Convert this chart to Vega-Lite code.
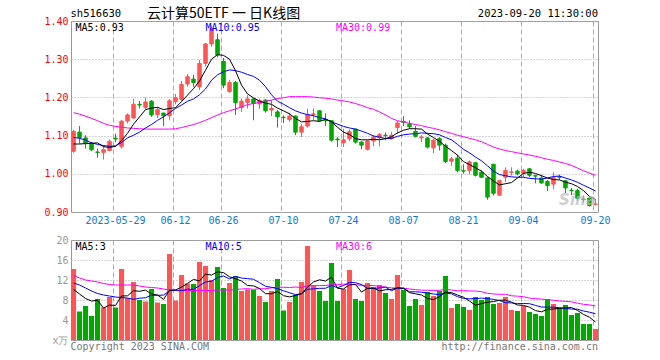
{
"$schema": "https://vega.github.io/schema/vega-lite/v6.json",
"background": "white",
"padding": {"left": 43, "top": 6, "right": 5, "bottom": 0},
"config": {
  "view": {"stroke": "#999", "strokeWidth": 1},
  "font": "DejaVu Sans Mono",
  "axis": {"labelFont": "DejaVu Sans Mono", "labelFontSize": 10, "ticks": false, "domain": false, "title": null, "gridColor": "#aaa", "gridWidth": 1, "labelAngle": 0, "labelOverlap": false}
},
"data": {"values": [
{"d":"2023-05-18","o":1.059,"h":1.115,"l":1.055,"c":1.111,"up":1,"v":14.2,"m5":1.078,"m10":1.095,"m30":1.160,"vm5":10.1,"vm10":11.4,"vm30":12.9},
{"d":"2023-05-19","o":1.109,"h":1.125,"l":1.079,"c":1.095,"up":0,"v":5.7,"m5":1.078,"m10":1.093,"m30":1.156,"vm5":9.2,"vm10":11.0,"vm30":12.4},
{"d":"2023-05-22","o":1.094,"h":1.101,"l":1.066,"c":1.079,"up":0,"v":6.8,"m5":1.079,"m10":1.088,"m30":1.151,"vm5":8.3,"vm10":10.4,"vm30":12.0},
{"d":"2023-05-23","o":1.079,"h":1.083,"l":1.059,"c":1.063,"up":0,"v":4.8,"m5":1.080,"m10":1.081,"m30":1.145,"vm5":7.8,"vm10":9.8,"vm30":11.8},
{"d":"2023-05-24","o":1.057,"h":1.066,"l":1.042,"c":1.056,"up":0,"v":8.2,"m5":1.081,"m10":1.077,"m30":1.139,"vm5":7.94,"vm10":9.3,"vm30":11.6},
{"d":"2023-05-25","o":1.056,"h":1.075,"l":1.037,"c":1.063,"up":1,"v":6.5,"m5":1.071,"m10":1.074,"m30":1.132,"vm5":6.4,"vm10":9.0,"vm30":11.3},
{"d":"2023-05-26","o":1.061,"h":1.090,"l":1.059,"c":1.085,"up":1,"v":8.6,"m5":1.069,"m10":1.072,"m30":1.127,"vm5":6.98,"vm10":8.8,"vm30":11.1},
{"d":"2023-05-29","o":1.093,"h":1.105,"l":1.083,"c":1.091,"up":0,"v":6.5,"m5":1.072,"m10":1.073,"m30":1.124,"vm5":6.92,"vm10":8.6,"vm30":11.0},
{"d":"2023-05-30","o":1.072,"h":1.140,"l":1.066,"c":1.138,"up":1,"v":14.2,"m5":1.087,"m10":1.082,"m30":1.122,"vm5":8.8,"vm10":8.5,"vm30":11.0},
{"d":"2023-05-31","o":1.138,"h":1.158,"l":1.132,"c":1.154,"up":1,"v":8.4,"m5":1.106,"m10":1.094,"m30":1.120,"vm5":8.84,"vm10":8.39,"vm30":11.0},
{"d":"2023-06-01","o":1.146,"h":1.197,"l":1.145,"c":1.182,"up":1,"v":11.6,"m5":1.130,"m10":1.101,"m30":1.119,"vm5":9.86,"vm10":8.13,"vm30":11.0},
{"d":"2023-06-02","o":1.182,"h":1.191,"l":1.171,"c":1.180,"up":0,"v":8.0,"m5":1.149,"m10":1.109,"m30":1.118,"vm5":9.74,"vm10":8.36,"vm30":10.8},
{"d":"2023-06-05","o":1.174,"h":1.200,"l":1.168,"c":1.188,"up":1,"v":7.7,"m5":1.168,"m10":1.120,"m30":1.117,"vm5":9.98,"vm10":8.45,"vm30":10.6},
{"d":"2023-06-06","o":1.190,"h":1.193,"l":1.149,"c":1.154,"up":0,"v":10.2,"m5":1.172,"m10":1.129,"m30":1.117,"vm5":9.18,"vm10":8.99,"vm30":10.5},
{"d":"2023-06-07","o":1.155,"h":1.175,"l":1.146,"c":1.168,"up":1,"v":7.5,"m5":1.174,"m10":1.140,"m30":1.117,"vm5":9.0,"vm10":8.92,"vm30":10.4},
{"d":"2023-06-08","o":1.159,"h":1.160,"l":1.125,"c":1.152,"up":0,"v":7.2,"m5":1.168,"m10":1.149,"m30":1.117,"vm5":8.12,"vm10":8.99,"vm30":10.2},
{"d":"2023-06-09","o":1.152,"h":1.196,"l":1.140,"c":1.191,"up":1,"v":17.2,"m5":1.171,"m10":1.160,"m30":1.117,"vm5":9.96,"vm10":9.85,"vm30":10.0},
{"d":"2023-06-12","o":1.189,"h":1.209,"l":1.182,"c":1.199,"up":1,"v":7.9,"m5":1.173,"m10":1.171,"m30":1.118,"vm5":10.0,"vm10":9.99,"vm30":9.9},
{"d":"2023-06-13","o":1.195,"h":1.243,"l":1.189,"c":1.234,"up":1,"v":13.0,"m5":1.189,"m10":1.180,"m30":1.121,"vm5":10.56,"vm10":9.87,"vm30":9.9},
{"d":"2023-06-14","o":1.235,"h":1.261,"l":1.228,"c":1.254,"up":1,"v":11.3,"m5":1.206,"m10":1.190,"m30":1.125,"vm5":11.32,"vm10":10.16,"vm30":9.9},
{"d":"2023-06-15","o":1.248,"h":1.259,"l":1.228,"c":1.239,"up":0,"v":11.2,"m5":1.223,"m10":1.196,"m30":1.129,"vm5":12.12,"vm10":10.12,"vm30":9.9},
{"d":"2023-06-16","o":1.228,"h":1.298,"l":1.219,"c":1.289,"up":1,"v":15.6,"m5":1.243,"m10":1.207,"m30":1.134,"vm5":11.8,"vm10":10.88,"vm30":9.9},
{"d":"2023-06-19","o":1.289,"h":1.342,"l":1.281,"c":1.340,"up":1,"v":14.8,"m5":1.271,"m10":1.222,"m30":1.140,"vm5":13.18,"vm10":11.59,"vm30":9.9},
{"d":"2023-06-20","o":1.340,"h":1.386,"l":1.333,"c":1.380,"up":1,"v":12.0,"m5":1.300,"m10":1.245,"m30":1.147,"vm5":12.98,"vm10":11.77,"vm30":9.9},
{"d":"2023-06-21","o":1.351,"h":1.367,"l":1.305,"c":1.311,"up":0,"v":14.6,"m5":1.312,"m10":1.259,"m30":1.154,"vm5":13.64,"vm10":12.48,"vm30":10.0},
{"d":"2023-06-26","o":1.294,"h":1.303,"l":1.224,"c":1.232,"up":0,"v":10.4,"m5":1.310,"m10":1.267,"m30":1.160,"vm5":13.48,"vm10":12.8,"vm30":10.0},
{"d":"2023-06-27","o":1.215,"h":1.246,"l":1.212,"c":1.239,"up":1,"v":11.4,"m5":1.300,"m10":1.272,"m30":1.165,"vm5":12.64,"vm10":12.22,"vm30":10.0},
{"d":"2023-06-28","o":1.239,"h":1.243,"l":1.154,"c":1.186,"up":0,"v":12.8,"m5":1.270,"m10":1.270,"m30":1.170,"vm5":12.24,"vm10":12.71,"vm30":10.1},
{"d":"2023-06-29","o":1.174,"h":1.197,"l":1.162,"c":1.190,"up":1,"v":9.8,"m5":1.232,"m10":1.266,"m30":1.175,"vm5":11.8,"vm10":12.39,"vm30":10.2},
{"d":"2023-06-30","o":1.187,"h":1.206,"l":1.171,"c":1.196,"up":1,"v":10.1,"m5":1.209,"m10":1.260,"m30":1.181,"vm5":10.9,"vm10":12.27,"vm30":10.27},
{"d":"2023-07-03","o":1.196,"h":1.197,"l":1.140,"c":1.184,"up":0,"v":10.0,"m5":1.199,"m10":1.255,"m30":1.184,"vm5":10.82,"vm10":12.15,"vm30":10.13},
{"d":"2023-07-04","o":1.183,"h":1.197,"l":1.170,"c":1.192,"up":1,"v":8.8,"m5":1.190,"m10":1.245,"m30":1.187,"vm5":10.3,"vm10":11.47,"vm30":10.24},
{"d":"2023-07-05","o":1.193,"h":1.195,"l":1.160,"c":1.165,"up":0,"v":7.6,"m5":1.185,"m10":1.228,"m30":1.190,"vm5":9.26,"vm10":10.75,"vm30":10.26},
{"d":"2023-07-06","o":1.167,"h":1.193,"l":1.151,"c":1.171,"up":1,"v":9.8,"m5":1.182,"m10":1.207,"m30":1.193,"vm5":9.26,"vm10":10.53,"vm30":10.43},
{"d":"2023-07-07","o":1.162,"h":1.167,"l":1.121,"c":1.149,"up":0,"v":12.2,"m5":1.172,"m10":1.190,"m30":1.197,"vm5":9.68,"vm10":10.29,"vm30":10.56},
{"d":"2023-07-10","o":1.148,"h":1.153,"l":1.133,"c":1.147,"up":0,"v":5.9,"m5":1.165,"m10":1.182,"m30":1.199,"vm5":8.86,"vm10":9.84,"vm30":10.54},
{"d":"2023-07-11","o":1.142,"h":1.160,"l":1.136,"c":1.151,"up":1,"v":7.6,"m5":1.157,"m10":1.173,"m30":1.202,"vm5":8.62,"vm10":9.46,"vm30":10.51},
{"d":"2023-07-12","o":1.151,"h":1.153,"l":1.101,"c":1.109,"up":0,"v":9.0,"m5":1.145,"m10":1.165,"m30":1.202,"vm5":8.9,"vm10":9.08,"vm30":10.59},
{"d":"2023-07-13","o":1.109,"h":1.130,"l":1.096,"c":1.123,"up":1,"v":11.6,"m5":1.136,"m10":1.159,"m30":1.202,"vm5":9.26,"vm10":9.26,"vm30":10.51},
{"d":"2023-07-14","o":1.125,"h":1.171,"l":1.121,"c":1.155,"up":1,"v":18.8,"m5":1.137,"m10":1.155,"m30":1.202,"vm5":10.58,"vm10":10.13,"vm30":10.85},
{"d":"2023-07-17","o":1.155,"h":1.171,"l":1.141,"c":1.157,"up":1,"v":11.0,"m5":1.139,"m10":1.152,"m30":1.201,"vm5":11.6,"vm10":10.23,"vm30":10.83},
{"d":"2023-07-18","o":1.165,"h":1.167,"l":1.136,"c":1.139,"up":0,"v":9.8,"m5":1.137,"m10":1.147,"m30":1.199,"vm5":12.04,"vm10":10.33,"vm30":10.89},
{"d":"2023-07-19","o":1.140,"h":1.158,"l":1.125,"c":1.139,"up":0,"v":7.8,"m5":1.143,"m10":1.144,"m30":1.198,"vm5":11.8,"vm10":10.35,"vm30":10.90},
{"d":"2023-07-20","o":1.139,"h":1.140,"l":1.084,"c":1.088,"up":0,"v":15.4,"m5":1.136,"m10":1.136,"m30":1.196,"vm5":12.56,"vm10":10.91,"vm30":11.07},
{"d":"2023-07-21","o":1.091,"h":1.096,"l":1.070,"c":1.089,"up":0,"v":7.8,"m5":1.122,"m10":1.130,"m30":1.193,"vm5":10.36,"vm10":10.47,"vm30":11.08},
{"d":"2023-07-24","o":1.081,"h":1.118,"l":1.070,"c":1.089,"up":1,"v":10.2,"m5":1.109,"m10":1.124,"m30":1.191,"vm5":10.2,"vm10":10.9,"vm30":11.18},
{"d":"2023-07-25","o":1.092,"h":1.116,"l":1.086,"c":1.110,"up":1,"v":14.0,"m5":1.103,"m10":1.120,"m30":1.188,"vm5":11.04,"vm10":11.54,"vm30":11.07},
{"d":"2023-07-26","o":1.117,"h":1.118,"l":1.079,"c":1.083,"up":0,"v":8.2,"m5":1.092,"m10":1.117,"m30":1.184,"vm5":11.12,"vm10":11.46,"vm30":11.08},
{"d":"2023-07-27","o":1.083,"h":1.085,"l":1.064,"c":1.075,"up":0,"v":7.8,"m5":1.089,"m10":1.112,"m30":1.179,"vm5":9.6,"vm10":11.08,"vm30":10.91},
{"d":"2023-07-28","o":1.064,"h":1.088,"l":1.061,"c":1.086,"up":1,"v":11.4,"m5":1.089,"m10":1.106,"m30":1.173,"vm5":10.32,"vm10":10.34,"vm30":10.91},
{"d":"2023-07-31","o":1.086,"h":1.101,"l":1.072,"c":1.096,"up":1,"v":10.6,"m5":1.090,"m10":1.099,"m30":1.169,"vm5":10.4,"vm10":10.3,"vm30":10.89},
{"d":"2023-08-01","o":1.095,"h":1.107,"l":1.072,"c":1.103,"up":1,"v":11.0,"m5":1.089,"m10":1.096,"m30":1.162,"vm5":9.8,"vm10":10.42,"vm30":10.74},
{"d":"2023-08-02","o":1.101,"h":1.108,"l":1.088,"c":1.100,"up":0,"v":9.4,"m5":1.092,"m10":1.092,"m30":1.154,"vm5":10.04,"vm10":10.58,"vm30":10.56},
{"d":"2023-08-03","o":1.092,"h":1.110,"l":1.089,"c":1.101,"up":1,"v":8.2,"m5":1.097,"m10":1.093,"m30":1.145,"vm5":10.12,"vm10":9.86,"vm30":10.43},
{"d":"2023-08-04","o":1.121,"h":1.138,"l":1.105,"c":1.133,"up":1,"v":13.0,"m5":1.107,"m10":1.098,"m30":1.139,"vm5":10.44,"vm10":10.38,"vm30":10.38},
{"d":"2023-08-07","o":1.137,"h":1.151,"l":1.125,"c":1.135,"up":0,"v":10.0,"m5":1.114,"m10":1.102,"m30":1.136,"vm5":10.32,"vm10":10.36,"vm30":10.37},
{"d":"2023-08-08","o":1.130,"h":1.140,"l":1.118,"c":1.123,"up":0,"v":6.8,"m5":1.118,"m10":1.104,"m30":1.132,"vm5":9.48,"vm10":9.64,"vm30":10.21},
{"d":"2023-08-09","o":1.111,"h":1.125,"l":1.095,"c":1.098,"up":0,"v":8.2,"m5":1.118,"m10":1.105,"m30":1.129,"vm5":9.24,"vm10":9.64,"vm30":10.06},
{"d":"2023-08-10","o":1.094,"h":1.101,"l":1.083,"c":1.096,"up":1,"v":7.0,"m5":1.117,"m10":1.107,"m30":1.126,"vm5":9.0,"vm10":9.56,"vm30":9.97},
{"d":"2023-08-11","o":1.094,"h":1.096,"l":1.066,"c":1.070,"up":0,"v":9.6,"m5":1.104,"m10":1.106,"m30":1.122,"vm5":8.32,"vm10":9.38,"vm30":9.95},
{"d":"2023-08-14","o":1.068,"h":1.092,"l":1.054,"c":1.088,"up":1,"v":8.8,"m5":1.095,"m10":1.105,"m30":1.119,"vm5":8.08,"vm10":9.2,"vm30":9.91},
{"d":"2023-08-15","o":1.092,"h":1.096,"l":1.061,"c":1.075,"up":0,"v":9.8,"m5":1.085,"m10":1.102,"m30":1.115,"vm5":8.68,"vm10":9.08,"vm30":9.94},
{"d":"2023-08-16","o":1.075,"h":1.079,"l":1.028,"c":1.032,"up":0,"v":12.8,"m5":1.072,"m10":1.095,"m30":1.110,"vm5":9.6,"vm10":9.42,"vm30":10.12},
{"d":"2023-08-17","o":1.033,"h":1.044,"l":1.020,"c":1.039,"up":1,"v":6.4,"m5":1.061,"m10":1.089,"m30":1.106,"vm5":9.48,"vm10":9.24,"vm30":10.0},
{"d":"2023-08-18","o":1.041,"h":1.050,"l":1.004,"c":1.009,"up":0,"v":7.2,"m5":1.049,"m10":1.077,"m30":1.101,"vm5":9.0,"vm10":8.66,"vm30":9.84},
{"d":"2023-08-21","o":1.008,"h":1.025,"l":1.000,"c":1.007,"up":0,"v":6.6,"m5":1.032,"m10":1.064,"m30":1.097,"vm5":8.56,"vm10":8.32,"vm30":9.86},
{"d":"2023-08-22","o":1.009,"h":1.035,"l":0.998,"c":1.031,"up":1,"v":6.0,"m5":1.024,"m10":1.055,"m30":1.093,"vm5":7.8,"vm10":8.24,"vm30":9.81},
{"d":"2023-08-23","o":1.029,"h":1.031,"l":0.993,"c":0.996,"up":0,"v":8.6,"m5":1.016,"m10":1.044,"m30":1.089,"vm5":6.96,"vm10":8.28,"vm30":9.79},
{"d":"2023-08-24","o":1.004,"h":1.009,"l":0.989,"c":0.991,"up":0,"v":8.0,"m5":1.007,"m10":1.034,"m30":1.084,"vm5":7.28,"vm10":8.38,"vm30":9.67},
{"d":"2023-08-25","o":0.989,"h":0.991,"l":0.932,"c":0.939,"up":0,"v":8.6,"m5":0.993,"m10":1.021,"m30":1.077,"vm5":7.56,"vm10":8.28,"vm30":9.33},
{"d":"2023-08-28","o":1.025,"h":1.026,"l":0.943,"c":0.949,"up":0,"v":7.2,"m5":0.981,"m10":1.007,"m30":1.070,"vm5":7.68,"vm10":8.12,"vm30":9.21},
{"d":"2023-08-29","o":0.944,"h":0.984,"l":0.943,"c":0.982,"up":1,"v":7.4,"m5":0.971,"m10":0.998,"m30":1.065,"vm5":7.96,"vm10":7.88,"vm30":9.13},
{"d":"2023-08-30","o":0.991,"h":1.017,"l":0.978,"c":1.009,"up":1,"v":8.6,"m5":0.974,"m10":0.995,"m30":1.061,"vm5":7.96,"vm10":7.46,"vm30":9.15},
{"d":"2023-08-31","o":1.004,"h":1.017,"l":0.995,"c":1.005,"up":1,"v":6.0,"m5":0.977,"m10":0.992,"m30":1.058,"vm5":7.56,"vm10":7.42,"vm30":8.84},
{"d":"2023-09-01","o":1.007,"h":1.011,"l":0.996,"c":1.000,"up":0,"v":5.8,"m5":0.989,"m10":0.991,"m30":1.055,"vm5":7.0,"vm10":7.28,"vm30":8.77},
{"d":"2023-09-04","o":1.002,"h":1.013,"l":0.991,"c":1.009,"up":1,"v":6.8,"m5":1.001,"m10":0.991,"m30":1.052,"vm5":6.92,"vm10":7.3,"vm30":8.66},
{"d":"2023-09-05","o":1.013,"h":1.015,"l":0.991,"c":0.996,"up":0,"v":5.6,"m5":1.004,"m10":0.988,"m30":1.049,"vm5":6.56,"vm10":7.26,"vm30":8.38},
{"d":"2023-09-06","o":0.995,"h":0.998,"l":0.975,"c":0.994,"up":0,"v":5.2,"m5":1.001,"m10":0.987,"m30":1.046,"vm5":5.88,"vm10":6.92,"vm30":8.28},
{"d":"2023-09-07","o":0.989,"h":0.998,"l":0.974,"c":0.976,"up":0,"v":4.8,"m5":0.995,"m10":0.986,"m30":1.042,"vm5":5.64,"vm10":6.6,"vm30":8.18},
{"d":"2023-09-08","o":0.980,"h":0.984,"l":0.955,"c":0.969,"up":0,"v":8.2,"m5":0.989,"m10":0.989,"m30":1.038,"vm5":6.12,"vm10":6.56,"vm30":8.07},
{"d":"2023-09-11","o":0.973,"h":1.004,"l":0.959,"c":0.990,"up":1,"v":7.2,"m5":0.985,"m10":0.993,"m30":1.035,"vm5":6.2,"vm10":6.56,"vm30":7.96},
{"d":"2023-09-12","o":0.992,"h":0.998,"l":0.984,"c":0.991,"up":0,"v":6.4,"m5":0.984,"m10":0.994,"m30":1.031,"vm5":6.32,"vm10":6.46,"vm30":7.81},
{"d":"2023-09-13","o":0.982,"h":0.984,"l":0.950,"c":0.963,"up":0,"v":7.0,"m5":0.978,"m10":0.989,"m30":1.027,"vm5":6.44,"vm10":6.3,"vm30":7.73},
{"d":"2023-09-14","o":0.957,"h":0.963,"l":0.944,"c":0.956,"up":0,"v":5.0,"m5":0.974,"m10":0.984,"m30":1.022,"vm5":6.48,"vm10":6.2,"vm30":7.62},
{"d":"2023-09-15","o":0.956,"h":0.961,"l":0.930,"c":0.936,"up":0,"v":5.4,"m5":0.967,"m10":0.978,"m30":1.015,"vm5":5.92,"vm10":6.16,"vm30":7.37},
{"d":"2023-09-18","o":0.934,"h":0.943,"l":0.925,"c":0.933,"up":0,"v":3.2,"m5":0.956,"m10":0.970,"m30":1.008,"vm5":5.12,"vm10":5.8,"vm30":7.14},
{"d":"2023-09-19","o":0.936,"h":0.939,"l":0.914,"c":0.917,"up":0,"v":3.2,"m5":0.941,"m10":0.963,"m30":1.002,"vm5":4.56,"vm10":5.56,"vm30":7.02},
{"d":"2023-09-20","o":0.920,"h":0.932,"l":0.917,"c":0.921,"up":1,"v":2.2,"m5":0.933,"m10":0.955,"m30":0.996,"vm5":3.6,"vm10":5.26,"vm30":6.82}
]},
"bounds": "flush",
"spacing": 28,
"vconcat": [
{
  "width": 527, "height": 191,
  "encoding": {"x": {"field": "d", "type": "ordinal", "scale": {"paddingInner": 0.15, "paddingOuter": 0},
    "axis": {"values": ["2023-05-29","2023-06-12","2023-06-26","2023-07-10","2023-07-24","2023-08-07","2023-08-21","2023-09-04","2023-09-20"],
      "labelExpr": "datum.value == '2023-05-29' ? datum.value : substring(datum.value, 5)",
      "labelColor": "#0a7ad6", "grid": true, "gridDash": [5, 3], "bandPosition": 0.1, "labelPadding": 3, "labelBound": false, "labelFlush": false, "labelOverlap": false}}},
  "layer": [
    {"mark": {"type": "rule", "strokeWidth": 1},
     "encoding": {
       "y": {"field": "l", "type": "quantitative", "scale": {"domain": [0.9, 1.4], "nice": false, "zero": false},
         "axis": {"values": [0.9, 1.0, 1.1, 1.2, 1.3, 1.4], "tickCount": 20, "format": ".2f", "labelColor": "#ff0000", "grid": true, "gridDash": [1, 2], "labelPadding": 3, "labelBound": false, "labelFlush": false, "labelOverlap": false}},
       "y2": {"field": "h"},
       "color": {"field": "up", "type": "nominal", "scale": {"domain": [0, 1], "range": ["#00a800", "#ff5555"]}, "legend": null}}},
    {"mark": {"type": "bar", "width": {"band": 0.68}, "strokeWidth": 1},
     "encoding": {
       "y": {"field": "o", "type": "quantitative"},
       "y2": {"field": "c"},
       "color": {"field": "up", "type": "nominal", "scale": {"domain": [0, 1], "range": ["#00a800", "#ff5555"]}, "legend": null},
       "stroke": {"field": "up", "type": "nominal", "scale": {"domain": [0, 1], "range": ["#00a800", "#ff5555"]}, "legend": null}}},
    {"mark": {"type": "line", "strokeWidth": 1, "color": "#ff00ff"}, "encoding": {"y": {"field": "m30", "type": "quantitative"}}},
    {"mark": {"type": "line", "strokeWidth": 1, "color": "#0000ff"}, "encoding": {"y": {"field": "m10", "type": "quantitative"}}},
    {"mark": {"type": "line", "strokeWidth": 1, "color": "#000000"}, "encoding": {"y": {"field": "m5", "type": "quantitative"}}},
    {"data": {"values": [{"d": "2023-05-18", "t": "MA5:0.93"}]},
     "mark": {"type": "text", "align": "left", "baseline": "top", "dx": 2, "dy": 2, "fontSize": 10, "color": "#000000"},
     "encoding": {"y": {"datum": 1.4, "type": "quantitative"}, "text": {"field": "t"}}},
    {"data": {"values": [{"d": "2023-06-19", "t": "MA10:0.95"}]},
     "mark": {"type": "text", "align": "left", "baseline": "top", "dx": 0, "dy": 2, "fontSize": 10, "color": "#0000ff"},
     "encoding": {"y": {"datum": 1.4, "type": "quantitative"}, "text": {"field": "t"}}},
    {"data": {"values": [{"d": "2023-07-21", "t": "MA30:0.99"}]},
     "mark": {"type": "text", "align": "left", "baseline": "top", "dx": -1.5, "dy": 2, "fontSize": 10, "color": "#ff00ff"},
     "encoding": {"y": {"datum": 1.4, "type": "quantitative"}, "text": {"field": "t"}}},
    {"data": {"values": [{"d": "2023-05-18", "t": "sh516630"}]},
     "mark": {"type": "text", "align": "left", "baseline": "alphabetic", "dx": -3, "dy": -4, "fontSize": 10.5, "color": "#000000"},
     "encoding": {"y": {"datum": 1.4, "type": "quantitative"}, "text": {"field": "t"}}},
    {"data": {"values": [{"d": "2023-06-26", "t": "云计算50ETF 一 日K线图"}]},
     "mark": {"type": "text", "align": "center", "baseline": "alphabetic", "dy": -3, "fontSize": 14, "font": "Noto Sans CJK SC", "color": "#000000"},
     "encoding": {"y": {"datum": 1.4, "type": "quantitative"}, "text": {"field": "t"}}},
    {"data": {"values": [{"d": "2023-09-20", "t": "2023-09-20 11:30:00"}]},
     "mark": {"type": "text", "align": "right", "baseline": "alphabetic", "dx": 2.5, "dy": -4, "fontSize": 10.5, "color": "#000000"},
     "encoding": {"y": {"datum": 1.4, "type": "quantitative"}, "text": {"field": "t"}}},
    {"data": {"values": [{"d": "2023-09-15", "t": "Sina"}]},
     "mark": {"type": "text", "align": "center", "baseline": "middle", "fontSize": 15, "font": "DejaVu Sans", "fontStyle": "italic", "fontWeight": "bold", "color": "#bbbbbb", "opacity": 0.7},
     "encoding": {"y": {"datum": 0.932, "type": "quantitative"}, "text": {"field": "t"}}}
  ]
},
{
  "width": 527, "height": 100,
  "encoding": {"x": {"field": "d", "type": "ordinal", "scale": {"paddingInner": 0.15, "paddingOuter": 0},
    "axis": {"values": ["2023-05-29","2023-06-12","2023-06-26","2023-07-10","2023-07-24","2023-08-07","2023-08-21","2023-09-04","2023-09-20"],
      "labels": false, "grid": true, "gridDash": [5, 3], "bandPosition": 0.1}}},
  "layer": [
    {"mark": {"type": "bar"},
     "encoding": {
       "y": {"field": "v", "type": "quantitative", "scale": {"domain": [0, 20], "nice": false},
         "axis": {"values": [0, 4, 8, 12, 16, 20], "tickCount": 20, "labelColor": "#999999", "labelExpr": "datum.value == 0 ? 'x万' : datum.label", "grid": true, "gridDash": [1, 2], "labelPadding": 3, "labelBound": false, "labelFlush": false, "labelOverlap": false}},
       "color": {"field": "up", "type": "nominal", "scale": {"domain": [0, 1], "range": ["#00a800", "#ff5555"]}, "legend": null}}},
    {"mark": {"type": "line", "strokeWidth": 1, "color": "#ff00ff"}, "encoding": {"y": {"field": "vm30", "type": "quantitative"}}},
    {"mark": {"type": "line", "strokeWidth": 1, "color": "#0000ff"}, "encoding": {"y": {"field": "vm10", "type": "quantitative"}}},
    {"mark": {"type": "line", "strokeWidth": 1, "color": "#000000"}, "encoding": {"y": {"field": "vm5", "type": "quantitative"}}},
    {"data": {"values": [{"d": "2023-05-18", "t": "MA5:3"}]},
     "mark": {"type": "text", "align": "left", "baseline": "top", "dx": 2, "dy": 2, "fontSize": 10, "color": "#000000"},
     "encoding": {"y": {"datum": 20, "type": "quantitative"}, "text": {"field": "t"}}},
    {"data": {"values": [{"d": "2023-06-19", "t": "MA10:5"}]},
     "mark": {"type": "text", "align": "left", "baseline": "top", "dx": 0, "dy": 2, "fontSize": 10, "color": "#0000ff"},
     "encoding": {"y": {"datum": 20, "type": "quantitative"}, "text": {"field": "t"}}},
    {"data": {"values": [{"d": "2023-07-21", "t": "MA30:6"}]},
     "mark": {"type": "text", "align": "left", "baseline": "top", "dx": -1.5, "dy": 2, "fontSize": 10, "color": "#ff00ff"},
     "encoding": {"y": {"datum": 20, "type": "quantitative"}, "text": {"field": "t"}}},
    {"data": {"values": [{"d": "2023-05-18", "t": "Copyright 2023 SINA.COM"}]},
     "mark": {"type": "text", "align": "left", "baseline": "top", "dx": -3, "dy": 2, "fontSize": 10, "color": "#777777"},
     "encoding": {"y": {"datum": 0, "type": "quantitative"}, "text": {"field": "t"}}},
    {"data": {"values": [{"d": "2023-09-20", "t": "http://finance.sina.com.cn"}]},
     "mark": {"type": "text", "align": "right", "baseline": "top", "dx": 2.5, "dy": 2, "fontSize": 10, "color": "#777777"},
     "encoding": {"y": {"datum": 0, "type": "quantitative"}, "text": {"field": "t"}}}
  ]
}
]
}
